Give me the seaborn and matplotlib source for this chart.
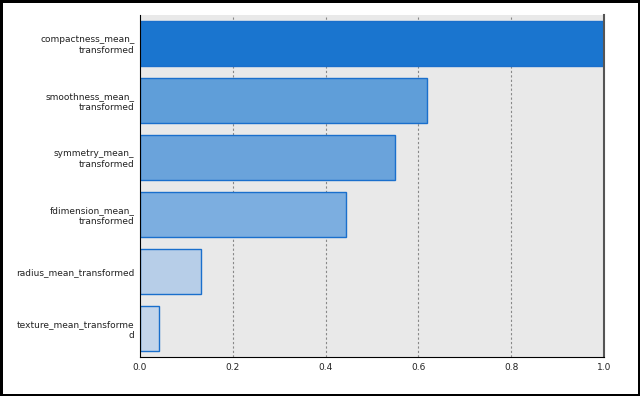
import matplotlib
matplotlib.use("Agg")
import matplotlib.pyplot as plt
import seaborn as sns
import pandas as pd

features = [
    "compactness_mean_\ntransformed",
    "smoothness_mean_\ntransformed",
    "symmetry_mean_\ntransformed",
    "fdimension_mean_\ntransformed",
    "radius_mean_transformed",
    "texture_mean_transforme\nd",
]
importance = [1.0, 0.619, 0.55, 0.444, 0.131, 0.041]
bar_colors = ["#1a75cf", "#5f9ed9", "#6aa3db", "#7caee0", "#b7cee8", "#c4d5ea"]

df = pd.DataFrame({"feature": features, "importance": importance})

sns.set_style("white")
plt.rcParams["font.family"] = ["DejaVu Sans"]

fig = plt.figure(figsize=(6.4, 3.96), dpi=100)
fig.patch.set_edgecolor("black")
fig.patch.set_linewidth(2.5)
ax = fig.add_axes([140 / 640, 39 / 396, 464 / 640, 342 / 396])
ax.set_facecolor("#e9e9e9")

sns.barplot(
    data=df, x="importance", y="feature", hue="feature",
    palette=bar_colors, legend=False, width=0.8, saturation=1,
    edgecolor="#1a6fcc", linewidth=1, ax=ax, zorder=2,
)

ax.set_xlim(0, 1.0)
ax.set_ylim(5.5, -0.5)
ax.set_xticks([0, 0.2, 0.4, 0.6, 0.8, 1.0])
ax.set_xticklabels(["0.0", "0.2", "0.4", "0.6", "0.8", "1.0"])
for x in [0.2, 0.4, 0.6, 0.8]:
    ax.axvline(x, color="#888888", linestyle=(0, (2, 2)), linewidth=0.8, zorder=1)
ax.tick_params(axis="both", labelsize=6.5, length=0, pad=4, colors="#222222")
ax.set_xlabel("")
ax.set_ylabel("")

ax.spines["top"].set_visible(False)
ax.spines["left"].set_color("black")
ax.spines["bottom"].set_color("black")
ax.spines["right"].set_color("#555555")
ax.spines["right"].set_linewidth(1.5)

fig.savefig("out.png", dpi=100, edgecolor=fig.get_edgecolor())
